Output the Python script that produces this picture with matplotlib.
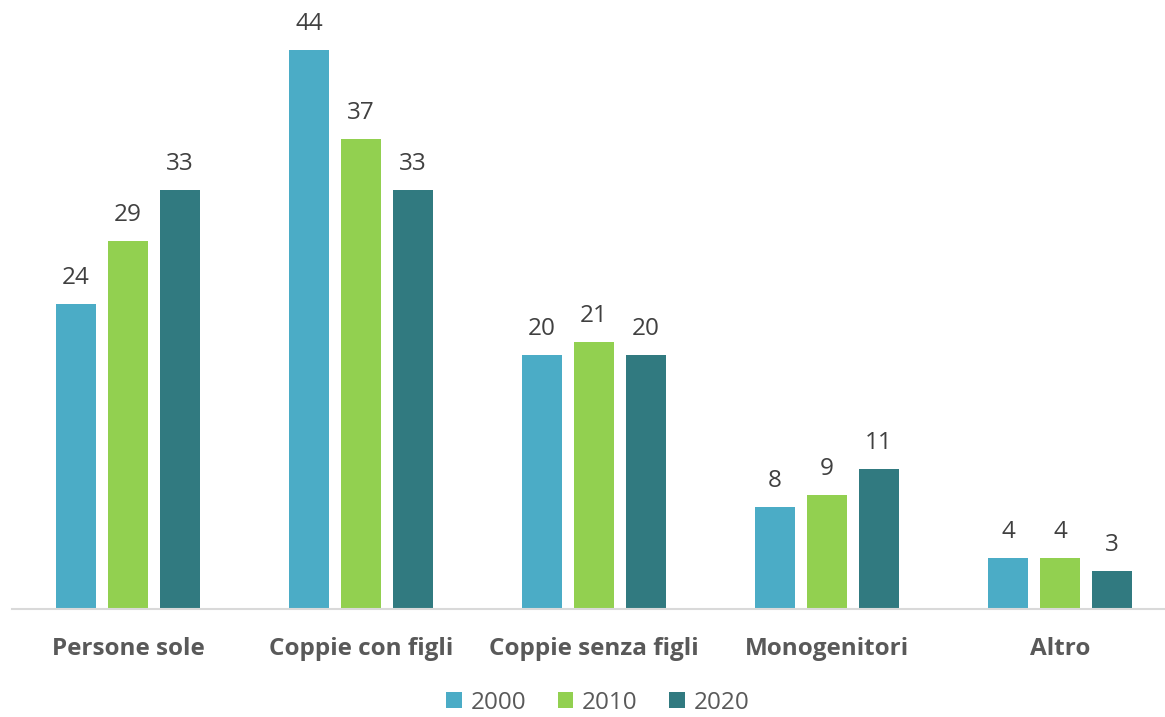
import numpy as np
import matplotlib.pyplot as plt

categories = ['Persone sole', 'Coppie con figli', 'Coppie senza figli', 'Monogenitori', 'Altro']
years = ['2000', '2010', '2020']
v2000 = [24, 44, 20, 8, 4]
v2010 = [29, 37, 21, 9, 4]
v2020 = [33, 33, 20, 11, 3]
colors = ['#4BACC6', '#92D050', '#317A80']

plt.rcParams['font.family'] = ['Open Sans', 'DejaVu Sans']

fig = plt.figure(figsize=(11.65, 7.17), dpi=100)
ax = fig.add_axes([0.0099, 0.1506, 0.9901, 0.815])

x = np.arange(len(categories))
width = 0.172
step = 0.223
for i, (vals, yr) in enumerate(zip([v2000, v2010, v2020], years)):
    bars = ax.bar(x + (i - 1) * step, vals, width, color=colors[i], label=yr)
    for b, v in zip(bars, vals):
        ax.text(b.get_x() + b.get_width() / 2, v + 1.1, str(v), ha='center', va='bottom',
                fontsize=17.5, color='#404040')

ax.set_xlim(-0.5, len(categories) - 0.55)
ax.set_ylim(0, 46)
ax.set_yticks([])
ax.set_xticks(x)
ax.set_xticklabels(categories, fontsize=17.5, fontweight='bold', color='#595959')
ax.tick_params(axis='x', length=0, pad=20)
for s in ['top', 'right', 'left']:
    ax.spines[s].set_visible(False)
ax.spines['bottom'].set_color('#D9D9D9')
ax.spines['bottom'].set_linewidth(1.5)

fig.legend(loc='lower center', bbox_to_anchor=(0.513, 0.003), ncol=3, frameon=False,
           borderpad=0, borderaxespad=0,
           fontsize=17.5, handlelength=0.65, handleheight=0.65, handletextpad=0.35,
           columnspacing=1.3, labelcolor='#595959')

fig.savefig('out.png', dpi=100)
